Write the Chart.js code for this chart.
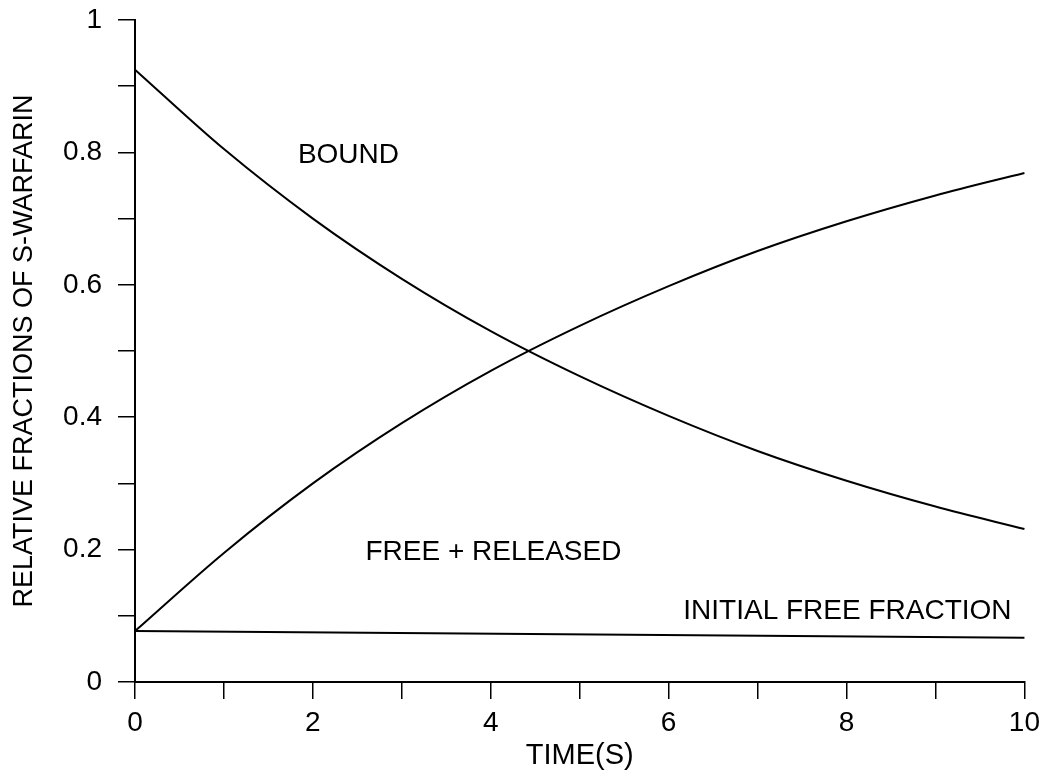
<!DOCTYPE html>
<html>
<head>
<meta charset="utf-8">
<script src="https://cdn.jsdelivr.net/npm/chart.js@4"></script>
<style>
  body { margin: 0; background: #fff; }
  #wrap { width: 1047px; height: 779px; }
</style>
</head>
<body>
<div id="wrap"><canvas id="chartWarfarin"></canvas></div>
<script>
// values
const timeValues = [0, 1, 2, 3, 4, 5, 6, 7, 8, 9, 10];
const boundValues = [0.925, 0.805, 0.700, 0.609, 0.530, 0.462, 0.402, 0.349, 0.304, 0.265, 0.231];
const freeReleasedValues = [0.077, 0.195, 0.300, 0.391, 0.470, 0.538, 0.598, 0.651, 0.696, 0.735, 0.769];
const initialTimes = [0, 10];
const initialFreeValues = [0.077, 0.067];

const xTickLabels = [0, 2, 4, 6, 8, 10];
const yTickLabels = [0, 0.2, 0.4, 0.6, 0.8, 1];

const curveLabels = [
  { text: 'BOUND', x: 2.40, y: 0.796 },
  { text: 'FREE + RELEASED', x: 4.03, y: 0.196 },
  { text: 'INITIAL FREE FRACTION', x: 8.01, y: 0.107 }
];

const FONT = "'Liberation Sans', Arial, sans-serif";

function toPoints(xs, ys) {
  return xs.map((x, i) => ({ x: x, y: ys[i] }));
}

// writes the curve names inside the plot, placed through the scales
const curveLabelPlugin = {
  id: 'curveLabels',
  afterDatasetsDraw(chart) {
    const ctx = chart.ctx;
    const xs = chart.scales.x, ys = chart.scales.y;
    ctx.save();
    ctx.fillStyle = '#000';
    ctx.font = '28px ' + FONT;
    ctx.textAlign = 'center';
    ctx.textBaseline = 'middle';
    curveLabels.forEach(l => {
      ctx.fillText(l.text, xs.getPixelForValue(l.x), ys.getPixelForValue(l.y));
    });
    ctx.restore();
  }
};

const lineStyle = {
  borderColor: '#000',
  borderWidth: 2,
  pointRadius: 0,
  fill: false,
  clip: false
};

const ctx = document.getElementById('chartWarfarin').getContext('2d');

new Chart(ctx, {
  type: 'line',
  data: {
    datasets: [
      Object.assign({ label: 'BOUND', data: toPoints(timeValues, boundValues), cubicInterpolationMode: 'monotone' }, lineStyle),
      Object.assign({ label: 'FREE + RELEASED', data: toPoints(timeValues, freeReleasedValues), cubicInterpolationMode: 'monotone' }, lineStyle),
      Object.assign({ label: 'INITIAL FREE FRACTION', data: toPoints(initialTimes, initialFreeValues) }, lineStyle)
    ]
  },
  options: {
    responsive: true,
    maintainAspectRatio: false,
    animation: false,
    layout: { padding: { left: 0, right: 22, top: 20, bottom: 0 } },
    plugins: {
      legend: { display: false },
      tooltip: { enabled: false }
    },
    scales: {
      x: {
        type: 'linear',
        min: 0,
        max: 10,
        border: { display: true, color: '#000', width: 2 },
        grid: { drawOnChartArea: false, drawTicks: true, tickLength: 17, color: '#000', lineWidth: 1.5 },
        ticks: {
          stepSize: 1,
          autoSkip: false,
          maxRotation: 0,
          padding: 7,
          color: '#000',
          font: { family: FONT, size: 28 },
          callback: v => xTickLabels.includes(v) ? String(v) : ''
        },
        title: {
          display: true,
          text: 'TIME(S)',
          color: '#000',
          font: { family: FONT, size: 29 },
          padding: { top: 0, bottom: 6 }
        },
        afterFit: scale => { scale.height = 97; }
      },
      y: {
        type: 'linear',
        min: 0,
        max: 1,
        border: { display: true, color: '#000', width: 2 },
        grid: { drawOnChartArea: false, drawTicks: true, tickLength: 17, color: '#000', lineWidth: 1.5 },
        ticks: {
          stepSize: 0.1,
          autoSkip: false,
          padding: 16,
          color: '#000',
          font: { family: FONT, size: 28 },
          callback: v => {
            const r = Math.round(v * 10) / 10;
            return yTickLabels.includes(r) ? String(r) : '';
          }
        },
        title: {
          display: true,
          text: 'RELATIVE FRACTIONS OF S-WARFARIN',
          color: '#000',
          font: { family: FONT, size: 27 },
          padding: { top: 8, bottom: 0 }
        },
        afterFit: scale => {
          scale.width = 135;
          scale.paddingTop = 0;
          scale.paddingBottom = 0;
        }
      }
    }
  },
  plugins: [curveLabelPlugin]
});
</script>
</body>
</html>
